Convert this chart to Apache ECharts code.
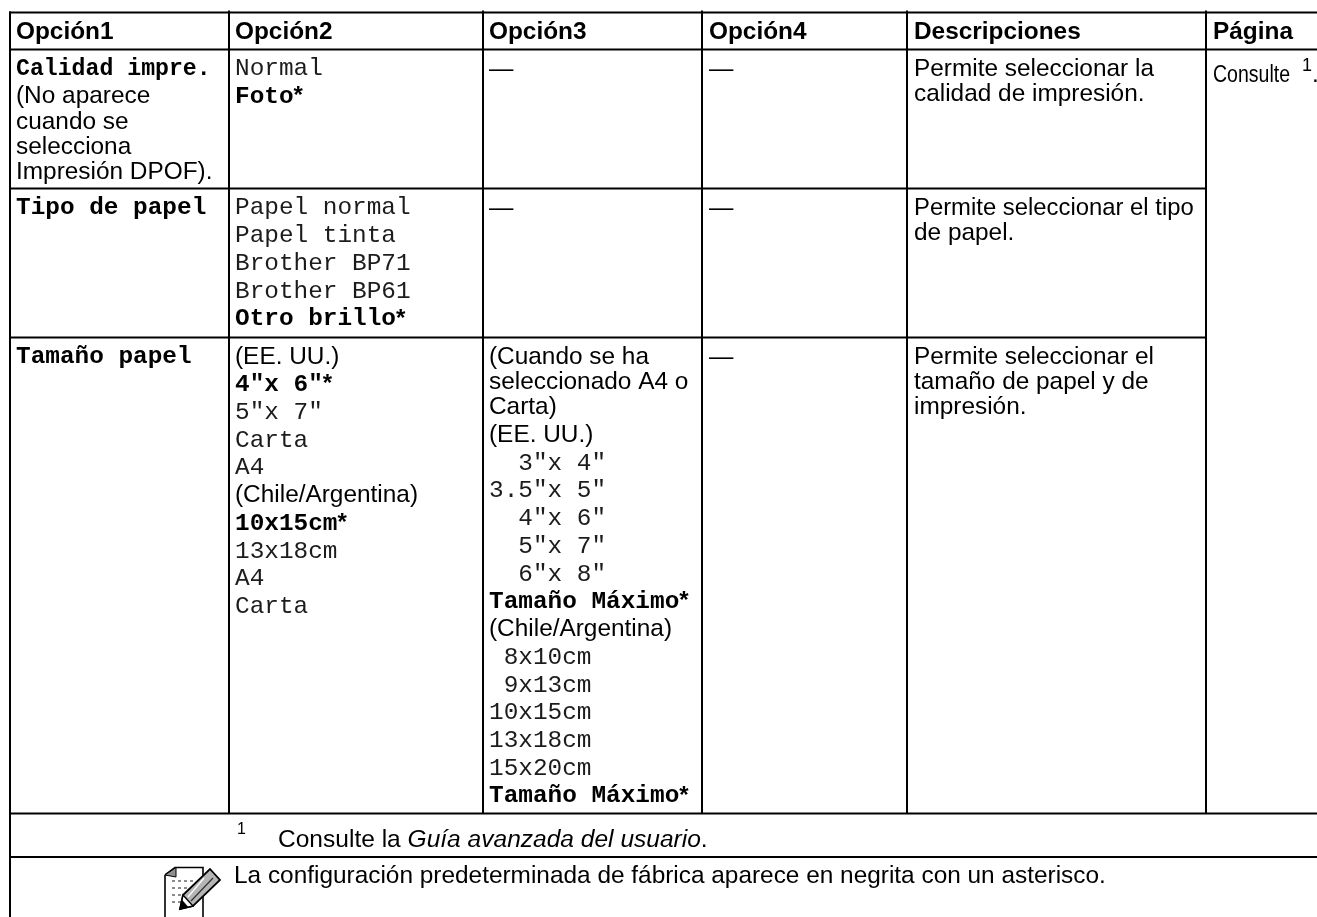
<!DOCTYPE html>
<html><head><meta charset="utf-8">
<style>html,body{margin:0;padding:0;background:#fff}#c{width:1317px;height:917px}</style>
<script src="https://cdn.jsdelivr.net/npm/echarts@6/dist/echarts.min.js"></script>
</head><body><div id="c"></div>
<script>
// Table content. Line kinds: M mono, B mono bold (* = footnote star), C condensed mono bold, S sans, W sans wrapped line, T tight sans, N narrow sans
const headers = ['Opción1','Opción2','Opción3','Opción4','Descripciones','Página'];
const rowCalidad = [
  [['C','Calidad impre.'],['S','(No aparece'],['W','cuando se'],['W','selecciona'],['W','Impresión DPOF).']],
  [['M','Normal'],['B','Foto*']],
  [['S','—']],
  [['S','—']],
  [['S','Permite seleccionar la'],['W','calidad de impresión.']],
  [['N','Consulte']]
];
const rowTipo = [
  [['B','Tipo de papel']],
  [['M','Papel normal'],['M','Papel tinta'],['M','Brother BP71'],['M','Brother BP61'],['B','Otro brillo*']],
  [['S','—']],
  [['S','—']],
  [['T','Permite seleccionar el tipo'],['W','de papel.']]
];
const rowTamano = [
  [['B','Tamaño papel']],
  [['S','(EE. UU.)'],['B','4"x 6"*'],['M','5"x 7"'],['M','Carta'],['M','A4'],['S','(Chile/Argentina)'],['B','10x15cm*'],['M','13x18cm'],['M','A4'],['M','Carta']],
  [['S','(Cuando se ha'],['W','seleccionado A4 o'],['W','Carta)'],['S','(EE. UU.)'],['M','  3"x 4"'],['M','3.5"x 5"'],['M','  4"x 6"'],['M','  5"x 7"'],['M','  6"x 8"'],['B','Tamaño Máximo*'],['S','(Chile/Argentina)'],['M',' 8x10cm'],['M',' 9x13cm'],['M','10x15cm'],['M','13x18cm'],['M','15x20cm'],['B','Tamaño Máximo*']],
  [['S','—']],
  [['S','Permite seleccionar el'],['W','tamaño de papel y de'],['W','impresión.']]
];
const footnoteMark = '1';
const footnoteParts = ['Consulte la ','Guía avanzada del usuario','.'];
const noteText = 'La configuración predeterminada de fábrica aparece en negrita con un asterisco.';
const pageRefMark = '1';
const pageRefEnd = '.';

// Layout of the table on the pixel axes
const W = 1317, H = 917;
const colEdges = [229, 483, 702, 907, 1206];
const leftEdge = 10;
const rowEdges = [12.5, 49.5, 188.5, 337.5, 813.5, 857];
const cellText = [16, 235, 489, 709, 914, 1213];
const MONO = '"Liberation Mono",monospace', SANS = '"Liberation Sans",Arial,sans-serif';
const FS = 24.4, CH = FS * 0.6001, LH = 27.75, WH = 25.3, FIRST = 19.5;

const texts = [];
function put(x, y, text, font, size, opt) { texts.push(Object.assign({x, y, text, font, size, weight:'normal'}, opt || {})); }
function cell(lines, col, rowTop) {
  let y = rowTop + FIRST;
  lines.forEach((ln, i) => {
    const k = ln[0]; let t = ln[1];
    if (i > 0) y += (k === 'W') ? WH : LH;
    const x = cellText[col];
    if (k === 'M') put(x, y, t, MONO, FS, {fill:'#1c1c1c'});
    else if (k === 'C') put(x, y, t, MONO, FS, {weight:'bold', scaleX:0.95});
    else if (k === 'B') {
      const star = t.endsWith('*');
      if (star) t = t.slice(0, -1);
      put(x, y, t, MONO, FS, {weight:'bold'});
      if (star) put(x + t.length * CH, y, '*', SANS, 24, {weight:'bold'});
    }
    else if (k === 'T') put(x, y, t, SANS, FS, {scaleX:0.978});
    else if (k === 'N') put(x, y + 6, t, SANS, FS, {scaleX:0.8});
    else put(x, y, t, SANS, FS);
  });
}
headers.forEach((h, i) => put(cellText[i], 32, h, SANS, FS, {weight:'bold'}));
rowCalidad.forEach((c, i) => cell(c, i, rowEdges[1]));
rowTipo.forEach((c, i) => cell(c, i, rowEdges[2]));
rowTamano.forEach((c, i) => cell(c, i, rowEdges[3]));
put(1302, 66, pageRefMark, SANS, 18);
put(1312, 75.5, pageRefEnd, SANS, FS);
put(237, 830, footnoteMark, SANS, 16);
put(278, 840.5, '{n|' + footnoteParts[0] + '}{i|' + footnoteParts[1] + '}{n|' + footnoteParts[2] + '}', SANS, FS, {
  scaleX:1.006,
  rich:{n:{fontFamily:SANS,fontSize:FS,fill:'#000'}, i:{fontFamily:SANS,fontSize:FS,fontStyle:'italic',fill:'#000'}}
});
put(234, 876.5, noteText, SANS, FS);

// Rules: [x1,y1,x2,y2]
const rules = [];
rowEdges.forEach((y, i) => {
  const partial = (i === 2 || i === 3);
  rules.push([leftEdge - 1, y, partial ? colEdges[4] + 1 : W, y]);
});
rules.push([leftEdge, rowEdges[0] - 1, leftEdge, H]);
colEdges.forEach(x => rules.push([x, rowEdges[0] - 2, x, rowEdges[4]]));

// Note icon outline points, in axis units
const icon = {
  page: [[165,875],[175,867.5],[203,867.5],[203,877]],
  pageSides: [[165,875],[165,917]],
  pageRight: [[203,896],[203,917]],
  fold: [[165,875],[176,877],[176,867.5]],
  pencil: [[210,869],[220,880],[193,906],[180,909],[183,895]],
  tip: [[183,895],[193,906],[180,909]],
  tipBlack: [[180,909],[188,907],[182,900]],
  stripe: [[204,878],[188,897]],
  stripe2: [[213,878],[191,901]],
  dots: [[172,880],[178,880],[184,880],[190,880],[172,887],[178,887],[184,887],[172,894],[178,894],[184,894],[172,901],[178,901]]
};

const chart = echarts.init(document.getElementById('c'), null, {renderer:'canvas'});
chart.setOption({
  animation:false,
  backgroundColor:'#fff',
  grid:{left:0,right:0,top:0,bottom:0},
  xAxis:{type:'value',min:0,max:W,show:false},
  yAxis:{type:'value',min:0,max:H,inverse:true,show:false},
  series:[
    {
      type:'custom', name:'rules', silent:true, clip:false,
      data:rules,
      encode:{x:[0,2],y:[1,3]},
      renderItem:(p,api)=>{
        const a=api.coord([api.value(0),api.value(1)]), b=api.coord([api.value(2),api.value(3)]);
        return {type:'line',shape:{x1:a[0],y1:a[1],x2:b[0],y2:b[1]},style:{stroke:'#000',lineWidth:2}};
      }
    },
    {
      type:'custom', name:'note icon', silent:true, clip:false,
      data:[[0,0]],
      renderItem:(p,api)=>{
        const pts=a=>a.map(q=>api.coord(q));
        const ln=(a,w,c)=>({type:'polyline',shape:{points:pts(a)},style:{stroke:c||'#000',lineWidth:w,fill:'none'}});
        const pg=(a,f,w)=>({type:'polygon',shape:{points:pts(a)},style:{fill:f,stroke:'#000',lineWidth:w}});
        const dots=icon.dots.map(q=>{const c=api.coord(q);return {type:'rect',shape:{x:c[0],y:c[1],width:3,height:2},style:{fill:'#8c8c8c'}};});
        return {type:'group',children:[
          ln(icon.page,1.6), ln(icon.pageSides,1.6), ln(icon.pageRight,1.6),
          pg(icon.fold,'#8f8f8f',1),
          ...dots,
          pg(icon.pencil,'#b5b5b5',1.8), pg(icon.tip,'#fff',1.4),
          ln(icon.stripe,1.2,'#fff'), ln(icon.stripe2,1.2,'#333'),
          pg(icon.tipBlack,'#000',0.5)
        ]};
      }
    },
    {
      type:'custom', name:'cells', silent:true, clip:false,
      data:texts.map((t,i)=>[t.x,t.y,i]),
      encode:{x:0,y:1},
      renderItem:(p,api)=>{
        const t=texts[api.value(2)], c=api.coord([api.value(0),api.value(1)]);
        return {type:'text',x:c[0],y:c[1],scaleX:t.scaleX||1,originX:0,style:{
          text:t.text,x:0,y:0,fill:t.fill||'#000',
          font:`${t.weight} ${t.size}px ${t.font}`,
          align:'left',verticalAlign:'middle',rich:t.rich
        }};
      }
    }
  ]
});
</script></body></html>
